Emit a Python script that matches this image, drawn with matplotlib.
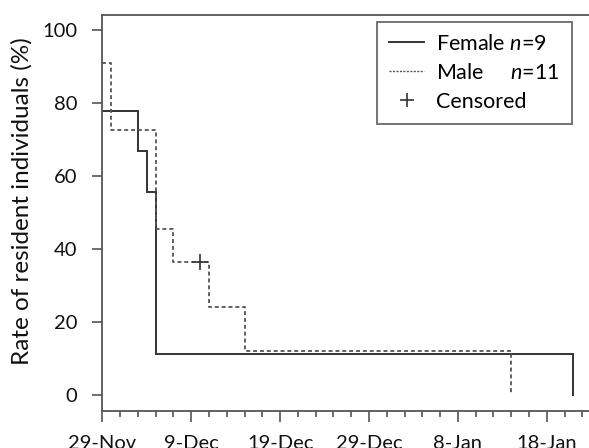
import matplotlib
matplotlib.use("Agg")
import matplotlib.pyplot as plt
from matplotlib.lines import Line2D
from matplotlib.ticker import MultipleLocator

# Data (days since 29-Nov, survival %)
female_days = [0, 4, 5, 6, 53]
female_surv = [77.8, 66.7, 55.6, 11.1, 0]
male_days = [0, 1, 6, 8, 12, 16, 46]
male_surv = [90.9, 72.7, 45.5, 36.4, 24.2, 12.1, 0]
censored_days = [11]
censored_surv = [36.4]
tick_days = [0, 10, 20, 30, 40, 50]
tick_labels = ["29-Nov", "9-Dec", "19-Dec", "29-Dec", "8-Jan", "18-Jan"]
ytick_vals = [0, 20, 40, 60, 80, 100]

plt.rcParams['font.family'] = ['Lato', 'DejaVu Sans']
plt.rcParams['mathtext.fontset'] = 'custom'
plt.rcParams['mathtext.it'] = 'Lato:italic'
plt.rcParams['mathtext.rm'] = 'Lato'

fig = plt.figure(figsize=(5.89, 4.48), dpi=100)
ax = fig.add_axes([0.1737, 0.0826, 0.83, 0.884])

lc = '#333333'
ax.step(female_days, female_surv, where='post', color=lc, lw=1.4, solid_joinstyle='miter')
ax.step(male_days, male_surv, where='post', color='#555555', lw=1.3, linestyle=(0, (2.2, 1.6)))
ax.plot(censored_days, censored_surv, marker='+', color=lc, markersize=11, mew=1.2, linestyle='none')

ax.set_xlim(0, 55)
ax.set_ylim(-4.4, 104.1)

ax.set_xticks(tick_days)
ax.set_xticklabels(tick_labels)
ax.xaxis.set_minor_locator(MultipleLocator(2))
ax.set_yticks(ytick_vals)

spc = '#555555'
for s in ['left', 'bottom', 'top']:
    ax.spines[s].set_color(spc)
    ax.spines[s].set_linewidth(1.3)
ax.spines['right'].set_visible(False)

ax.tick_params(axis='x', which='major', direction='out', length=8, width=1.2, color=spc,
               pad=9.5, labelsize=14.5, labelcolor='#111111')
ax.tick_params(axis='x', which='minor', direction='out', length=4, width=1.2, color=spc)
ax.tick_params(axis='y', which='major', direction='out', length=7, width=1.2, color=spc,
               pad=11, labelsize=14.5, labelcolor='#111111')

ax.set_ylabel("Rate of resident individuals (%)", fontsize=17.5, color='#111111')
ax.yaxis.set_label_coords(-0.142, 0.529)

handles = [
    Line2D([], [], color=lc, lw=1.4),
    Line2D([], [], color='#555555', lw=1.0, linestyle=(0, (1.5, 1.0))),
    Line2D([], [], color=lc, marker='+', markersize=10, mew=1.2, linestyle='none'),
]
labels = ["Female $n$=9", "Male     $n$=11", "Censored"]
leg = ax.legend(handles, labels, loc='upper right', bbox_to_anchor=(0.9605, 0.982),
                fontsize=15.5, frameon=True, fancybox=False, handlelength=1.63,
                handletextpad=0.55, borderpad=0.55, labelspacing=0.42, borderaxespad=0.0)
leg.get_frame().set_edgecolor('#444444')
leg.get_frame().set_linewidth(1.3)

fig.savefig("out.png", dpi=100)
